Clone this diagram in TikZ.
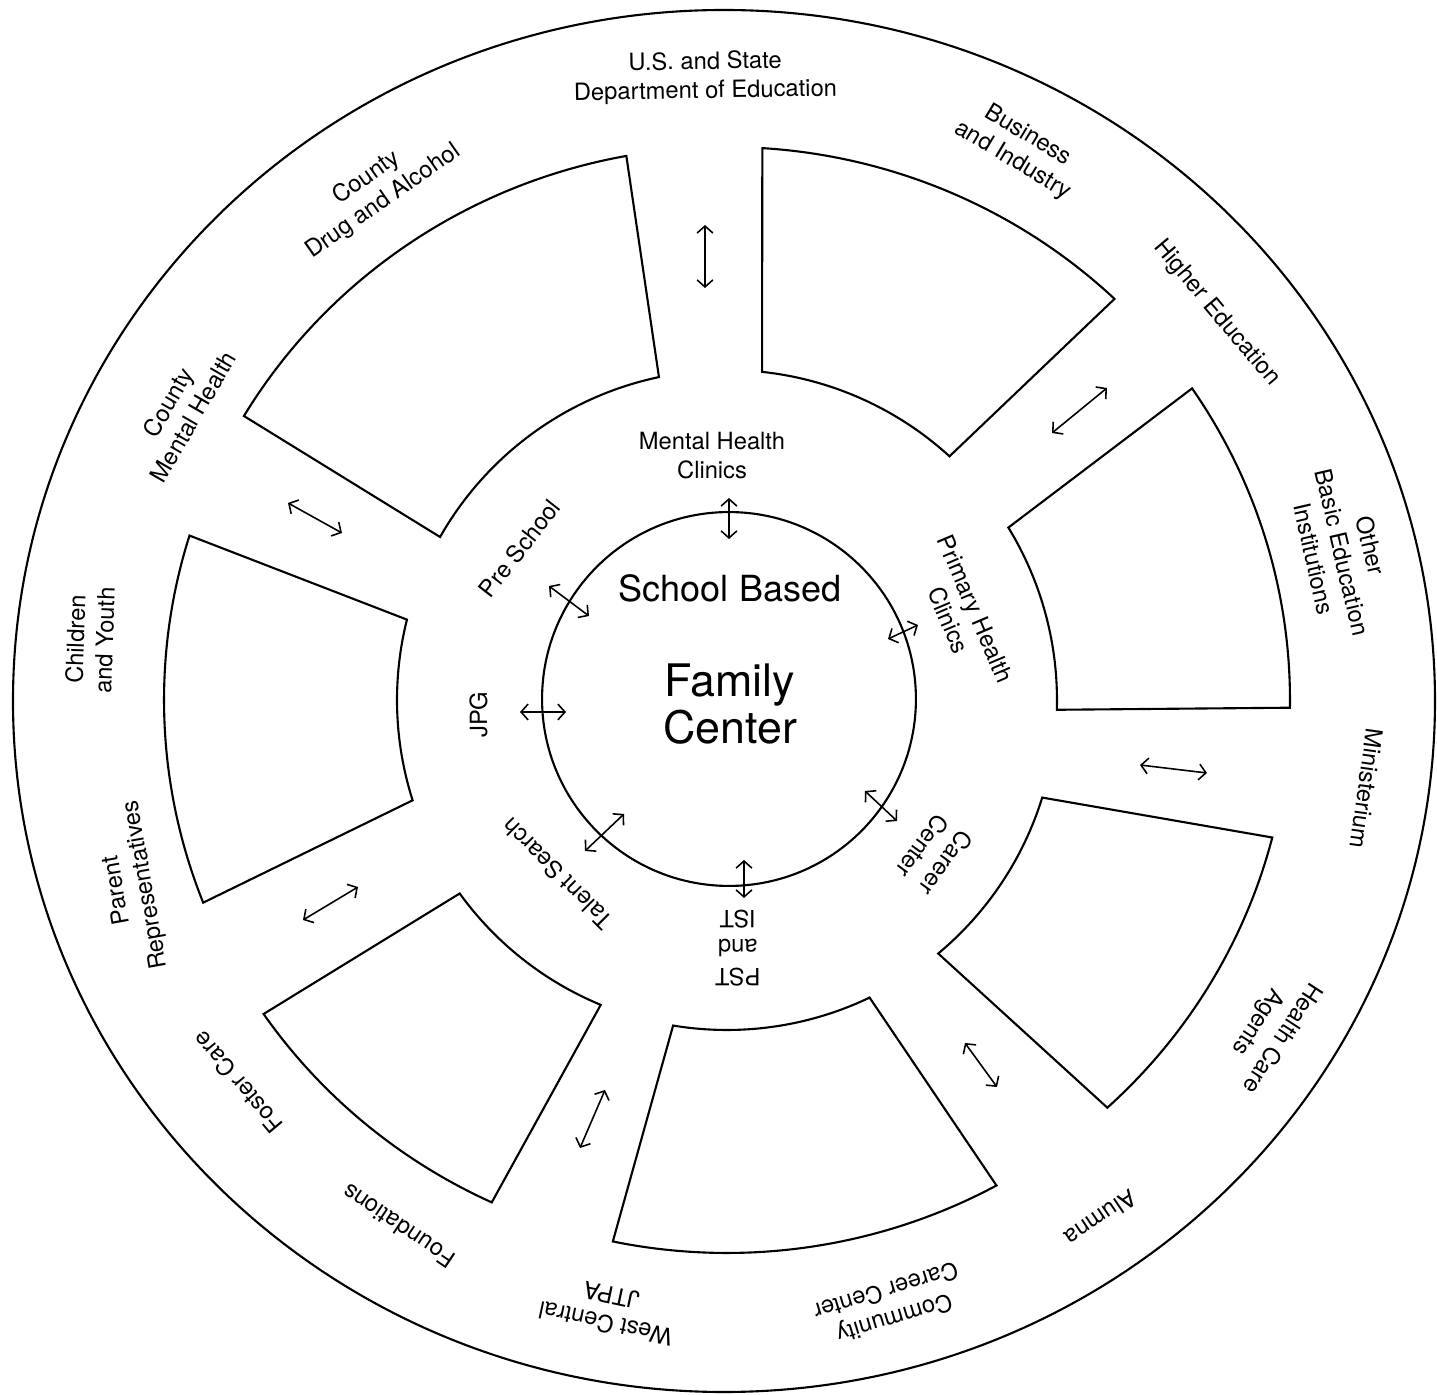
\documentclass[tikz,border=0pt]{standalone}
\usepackage{fontspec}
\setmainfont{TeX Gyre Heros}
\usetikzlibrary{arrows.meta}

\tikzset{
  rim/.style={line width=1.2pt},
  slot/.style={line width=1.2pt, line join=miter},
  link/.style={{Straight Barb[length=4pt,width=9pt]}-{Straight Barb[length=4pt,width=9pt]}, line width=0.9pt},
  lbl/.style={font=\fontsize{13.5}{16.5}\selectfont, align=center, inner sep=0pt},
}

\begin{document}
\begin{tikzpicture}[x=0.02cm, y=0.02cm]
\fill[white] (-727,-695) rectangle (710,700);
\useasboundingbox (-727,-695) rectangle (710,700);

% outer rim and the hub
\draw[rim] (-3,-1) ellipse [x radius=711, y radius=691];
\node[draw, circle, line width=1.2pt, minimum size=212.8pt, inner sep=0pt] (hub) at (2,1) {};
\node[font=\fontsize{20.5}{24}\selectfont, anchor=base, inner sep=0pt] (sb) at (3,98) {School Based};
\node[font=\fontsize{25.5}{27}\selectfont, align=center, inner sep=0pt] (fc) at (3,-4) {Family\\Center};

% the seven boxes
\foreach \ao/\bo/\ai/\bi in {100.3/149.1/101.9/150.4, 46.5/86.4/47.6/83.9, -0.8/34.3/-1.7/31.5,
    -47.5/-14.4/-50.2/-17.2, -101.7/-61.4/-99.4/-64.4, -145.4/-114.7/-144.1/-112.5, 162.7/201.5/165.9/197.7}
  \draw[slot] (\ao:563 and 553) arc[start angle=\ao, end angle=\bo, x radius=563, y radius=553]
    -- (\bi:330) arc[start angle=\bi, end angle=\ai, radius=330] -- cycle;

% outer ring
\node[lbl, rotate=1] (usdoe) at (92:623) {U.S. and State\\Department of Education};
\node[lbl, rotate=-31] (busind) at (62:625) {Business\\and Industry};
\node[lbl, rotate=-50] (higher) at (38.3:624) {Higher Education};
\node[lbl, rotate=-77] (basic) at (13.5:633) {Other\\Basic Education\\Institutions};
\node[lbl, rotate=-98] (minist) at (-7.9:646) {Ministerium};
\node[lbl, rotate=-123] (hcare) at (-31.3:635) {Health Care\\Agents};
\node[lbl, rotate=-146] (alumna) at (-54.2:639) {Alumna};
\node[lbl, rotate=-163] (ccc) at (-74.9:627) {Community\\Career Center};
\node[lbl, rotate=168] (jtpa) at (-101:621) {West Central\\JTPA};
\node[lbl, rotate=146] (found) at (-122:620) {Foundations};
\node[lbl, rotate=130] (foster) at (-142:621) {Foster Care};
\node[lbl, rotate=100] (parent) at (-162.5:624) {Parent\\Representatives};
\node[lbl, rotate=88] (youth) at (174.6:640) {Children\\and Youth};
\node[lbl, rotate=60] (cmh) at (152:619) {County\\Mental Health};
\node[lbl, rotate=35] (drug) at (124.6:620) {County\\Drug and Alcohol};

% inner ring
\node[lbl] (mhc) at (93.5:245) {Mental Health\\Clinics};
\node[lbl, rotate=52] (presch) at (143.8:257) {Pre School};
\node[lbl, rotate=90] (jpg) at (183.4:249) {JPG};
\node[lbl, rotate=135] (talent) at (-134.3:243) {Talent Search};
\node[lbl, rotate=180] (pst) at (-87.5:248) {PST\\and\\IST};
\node[lbl, rotate=-126] (career) at (-36.7:259) {Career\\Center};
\node[lbl, rotate=-67] (phc) at (20:250) {Primary Health\\Clinics};

% two-way arrows
\foreach \nm/\ax/\ay/\bx/\by in {i1/2/202/2/161, i2/-178/114/-138/84, i3/-207/-12/-161/-12,
    i4/-142/-151/-103/-114, i5/17/-160/17/-198, i6/138/-91/170/-121, i7/191/75/161/61,
    o1/-22/475/-22/412, o2/380/312/325/267, o3/413/-65/480/-73, o4/238/-343/270/-387,
    o5/-122/-390/-147/-448, o6/-369/-187/-424/-220, o7/-439/197/-385/167} {
  \coordinate (\nm a) at (\ax,\ay);
  \coordinate (\nm b) at (\bx,\by);
  \draw[link] (\nm a) -- (\nm b);
}
\end{tikzpicture}
\end{document}
